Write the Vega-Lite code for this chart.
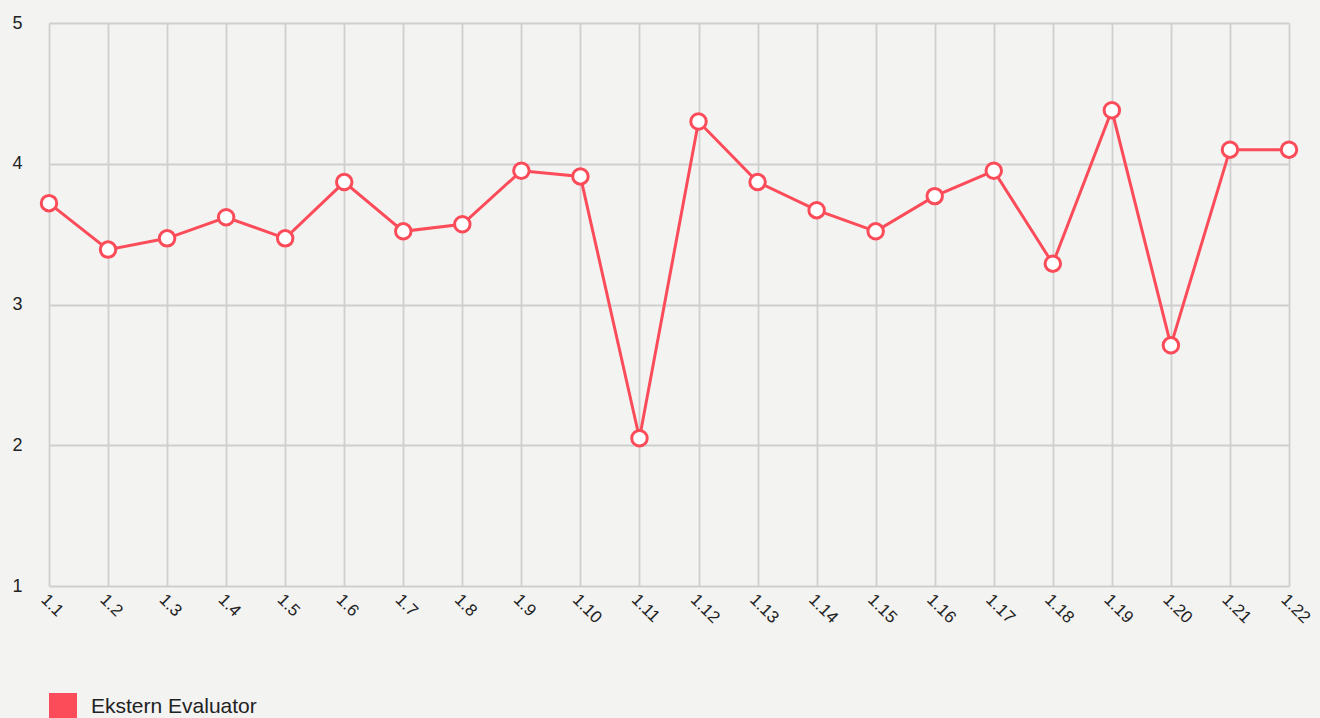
{
  "$schema": "https://vega.github.io/schema/vega-lite/v6.json",
  "width": 1240,
  "height": 563,
  "autosize": {"type": "none"},
  "padding": {"left": 49, "top": 23, "right": 31, "bottom": 132},
  "background": "#f3f3f2",
  "config": {
    "view": {"stroke": null},
    "font": "Liberation Sans",
    "axis": {"grid": true, "gridColor": "#cfcfcf", "gridWidth": 1.8, "gridOpacity": 1, "domain": false, "ticks": false, "labelColor": "#222222", "labelFont": "Liberation Sans", "labelFontSize": 17}
  },
  "data": {
    "values": [
      {"item": "1.1", "score": 3.72, "series": "Ekstern Evaluator"},
      {"item": "1.2", "score": 3.39, "series": "Ekstern Evaluator"},
      {"item": "1.3", "score": 3.47, "series": "Ekstern Evaluator"},
      {"item": "1.4", "score": 3.62, "series": "Ekstern Evaluator"},
      {"item": "1.5", "score": 3.47, "series": "Ekstern Evaluator"},
      {"item": "1.6", "score": 3.87, "series": "Ekstern Evaluator"},
      {"item": "1.7", "score": 3.52, "series": "Ekstern Evaluator"},
      {"item": "1.8", "score": 3.57, "series": "Ekstern Evaluator"},
      {"item": "1.9", "score": 3.95, "series": "Ekstern Evaluator"},
      {"item": "1.10", "score": 3.91, "series": "Ekstern Evaluator"},
      {"item": "1.11", "score": 2.05, "series": "Ekstern Evaluator"},
      {"item": "1.12", "score": 4.30, "series": "Ekstern Evaluator"},
      {"item": "1.13", "score": 3.87, "series": "Ekstern Evaluator"},
      {"item": "1.14", "score": 3.67, "series": "Ekstern Evaluator"},
      {"item": "1.15", "score": 3.52, "series": "Ekstern Evaluator"},
      {"item": "1.16", "score": 3.77, "series": "Ekstern Evaluator"},
      {"item": "1.17", "score": 3.95, "series": "Ekstern Evaluator"},
      {"item": "1.18", "score": 3.29, "series": "Ekstern Evaluator"},
      {"item": "1.19", "score": 4.38, "series": "Ekstern Evaluator"},
      {"item": "1.20", "score": 2.71, "series": "Ekstern Evaluator"},
      {"item": "1.21", "score": 4.10, "series": "Ekstern Evaluator"},
      {"item": "1.22", "score": 4.10, "series": "Ekstern Evaluator"}
    ]
  },
  "encoding": {
    "x": {"field": "item", "type": "ordinal", "sort": null, "scale": {"type": "point", "padding": 0},
      "axis": {"title": null, "grid": true, "labelAngle": 45, "labelAlign": "left", "labelBaseline": "top", "labelPadding": 5, "labelFontSize": 17}},
    "y": {"field": "score", "type": "quantitative", "scale": {"domain": [1, 5], "nice": false},
      "axis": {"title": null, "values": [1, 1.5, 2, 2.5, 3, 3.5, 4, 4.5, 5], "format": "d", "labelExpr": "datum.value % 1 === 0 ? datum.label : ''", "labelPadding": 27, "labelFontSize": 18}}
  },
  "layer": [
    {
      "mark": {"type": "line", "strokeWidth": 3},
      "encoding": {
        "color": {"field": "series", "type": "nominal", "scale": {"range": ["#fc4c5a"]},
          "legend": {"title": null, "orient": "none", "legendX": 0, "legendY": 670, "symbolType": "square", "symbolSize": 784, "symbolFillColor": "#fc4c5a", "symbolStrokeColor": "#fc4c5a", "symbolStrokeWidth": 0, "symbolOpacity": 1, "labelFontSize": 21, "labelLimit": 400, "labelColor": "#222222", "labelOffset": 14, "labelFont": "Liberation Sans"}}
      }
    },
    {
      "mark": {"type": "point", "filled": true, "fill": "white", "stroke": "#fc4c5a", "strokeWidth": 3, "size": 240, "opacity": 1}
    }
  ]
}
